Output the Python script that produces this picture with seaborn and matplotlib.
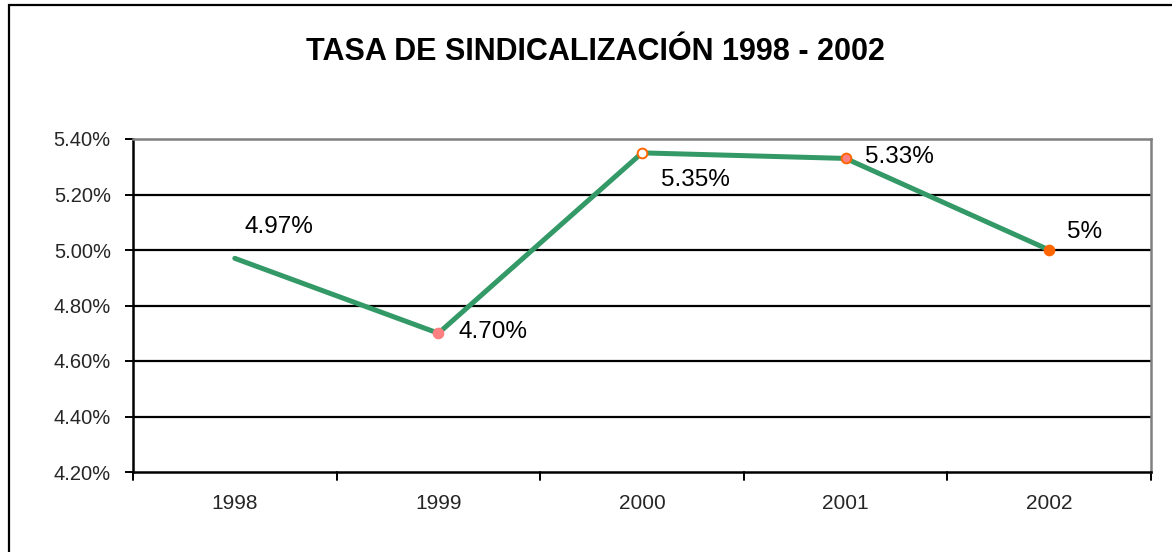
import matplotlib
matplotlib.use("Agg")
import matplotlib.pyplot as plt
from matplotlib.patches import Rectangle
import seaborn as sns
import pandas as pd

years = ["1998", "1999", "2000", "2001", "2002"]
rates = [4.97, 4.70, 5.35, 5.33, 5.00]
value_labels = ["4.97%", "4.70%", "5.35%", "5.33%", "5%"]
y_ticks = [4.20, 4.40, 4.60, 4.80, 5.00, 5.20, 5.40]
title = "TASA DE SINDICALIZACIÓN 1998 - 2002"

sns.set_theme(style="white")
plt.rcParams["font.family"] = ["Liberation Sans", "DejaVu Sans"]

W, H = 1172, 552
fig = plt.figure(figsize=(W / 100, H / 100), dpi=100)
fig.patch.set_facecolor("white")

# outer chart frame
fig.add_artist(Rectangle((9 / W, -0.05), 1.2, 1 - 5 / H + 0.05,
                         transform=fig.transFigure, fill=False,
                         edgecolor="black", linewidth=1.6))

ax = fig.add_axes([133 / W, 1 - 472 / H, (1151 - 133) / W, (472 - 139) / H])

df = pd.DataFrame({"year": years, "rate": rates})
sns.lineplot(data=df, x="year", y="rate", ax=ax, color="#339966",
             linewidth=3.6, sort=False, marker=None)

# individual point markers
marker_styles = [
    None,
    dict(mfc="#ff8080", mec="#ff8080"),
    dict(mfc="white", mec="#ff6600"),
    dict(mfc="#ff8080", mec="#ff6600"),
    dict(mfc="#ff6600", mec="#ff6600"),
]
for i, st in enumerate(marker_styles):
    if st is None:
        continue
    ax.plot([i], [rates[i]], marker="o", markersize=7, markeredgewidth=1.4,
            linestyle="none", zorder=5, **st)

# value labels
offsets = [(10, 31), (20, 1), (19, -27), (19, 1), (18, 18)]
for i, (lab, off) in enumerate(zip(value_labels, offsets)):
    ax.annotate(lab, (i, rates[i]), xytext=off, textcoords="offset pixels",
                ha="left", va="center", fontsize=17.5, color="black")

ax.set_xlim(-0.5, 4.5)
ax.set_ylim(4.20, 5.40)
ax.set_yticks(y_ticks)
ax.set_yticklabels([f"{v:.2f}%" for v in y_ticks], fontsize=14.5)
ax.set_xticks(range(len(years)))
ax.set_xticklabels(years, fontsize=15)
ax.set_xlabel("")
ax.set_ylabel("")

# horizontal gridlines
for v in y_ticks[1:-1]:
    ax.axhline(v, color="black", linewidth=1.6, zorder=0)

# category boundary tick marks on x axis
ax.tick_params(axis="x", length=0, pad=16)
for b in [-0.5, 0.5, 1.5, 2.5, 3.5, 4.5]:
    ax.plot([b, b], [0, -0.025], transform=ax.get_xaxis_transform(),
            color="black", linewidth=1.4, clip_on=False)
ax.tick_params(axis="y", length=6, width=1.4, color="black", pad=10,
               direction="out", left=True)

for side in ["left", "bottom"]:
    ax.spines[side].set_color("black")
    ax.spines[side].set_linewidth(1.8)
for side in ["top", "right"]:
    ax.spines[side].set_color("#808080")
    ax.spines[side].set_linewidth(1.8)

fig.text(595 / W, 1 - 52 / H, title, ha="center", va="center",
         fontsize=22, fontweight="bold", color="black")

fig.savefig("out.png", dpi=100)
